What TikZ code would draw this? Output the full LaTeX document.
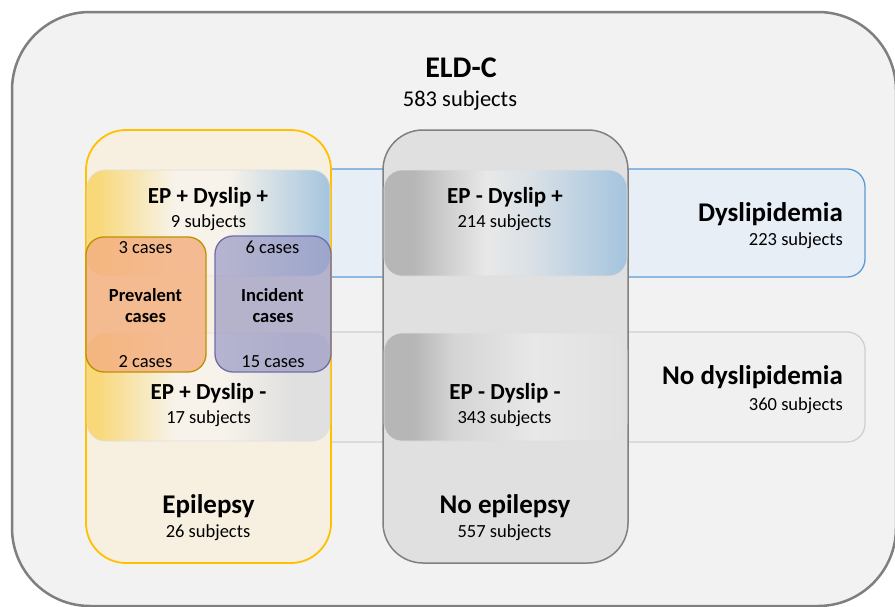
\documentclass[tikz,border=0pt]{standalone}
\usepackage{fontspec}
\setmainfont{Carlito}

\definecolor{outerfill}{HTML}{F2F2F2}
\definecolor{outerline}{HTML}{7F7F7F}
\definecolor{epifill}{HTML}{F7F0E0}
\definecolor{epiline}{HTML}{FFC000}
\definecolor{noepifill}{HTML}{E0E0E0}
\definecolor{noepiline}{HTML}{808080}
\definecolor{dysfill}{HTML}{E7EEF6}
\definecolor{dysline}{HTML}{5B9BD5}
\definecolor{nodysfill}{HTML}{F0F0F0}
\definecolor{nodysline}{HTML}{D0D0D0}
\definecolor{epyellow}{HTML}{F8D878}
\definecolor{epcream}{HTML}{F7F3EA}
\definecolor{dysblue}{HTML}{A4C4DE}
\definecolor{epgray}{HTML}{B6B6B6}
\definecolor{eplight}{HTML}{E8E8E8}
\definecolor{nodysgray}{HTML}{E0E0E0}
\definecolor{prevfill}{HTML}{F4B183}
\definecolor{prevline}{HTML}{BF9000}
\definecolor{incfill}{HTML}{9999C4}
\definecolor{incline}{HTML}{6E6EAA}

% gradients of the four crossings (path spans 25bp--75bp)
\pgfdeclarehorizontalshading{eppdpshade}{100bp}{color(0bp)=(epyellow); color(27bp)=(epyellow);
  color(34bp)=(epyellow!55!epcream); color(43bp)=(epcream); color(54bp)=(epcream);
  color(75bp)=(dysblue); color(100bp)=(dysblue)}
\pgfdeclarehorizontalshading{epmdpshade}{100bp}{color(0bp)=(epgray); color(25bp)=(epgray);
  color(31bp)=(epgray); color(38bp)=(epgray!50!eplight); color(46bp)=(eplight);
  color(55bp)=(eplight!80!dysblue); color(75bp)=(dysblue); color(100bp)=(dysblue)}
\pgfdeclarehorizontalshading{eppdmshade}{100bp}{color(0bp)=(epyellow); color(27bp)=(epyellow);
  color(34bp)=(epyellow!55!epcream); color(43bp)=(epcream); color(53bp)=(epcream);
  color(67bp)=(nodysgray); color(100bp)=(nodysgray)}
\pgfdeclarehorizontalshading{epmdmshade}{100bp}{color(0bp)=(epgray); color(25bp)=(epgray);
  color(31bp)=(epgray); color(39bp)=(epgray!40!eplight); color(56bp)=(eplight);
  color(75bp)=(nodysgray); color(100bp)=(nodysgray)}

\newcommand{\toptitle}{\fontsize{30}{34}\selectfont\bfseries}
\newcommand{\topcount}{\fontsize{22.5}{26}\selectfont}
\newcommand{\settitle}{\fontsize{27}{31}\selectfont\bfseries}
\newcommand{\celltitle}{\fontsize{23}{27}\selectfont\bfseries}
\newcommand{\subjcount}{\fontsize{18.5}{22}\selectfont}
\newcommand{\casetitle}{\fontsize{18.5}{22}\selectfont\bfseries}

\begin{document}
\begin{tikzpicture}[x=1pt, y=-1pt,
  box/.style={inner sep=0pt, rounded corners=18pt},
  cell/.style={box, draw=white!75!gray, line width=0.6pt, minimum width=243pt, shade},
  lbl/.style={anchor=base, inner sep=0pt},
  rlbl/.style={anchor=base east, inner sep=0pt}]
\useasboundingbox (0,0) rectangle (895,606);
% whole cohort
\node[box, rounded corners=78pt, draw=outerline, line width=2.5pt, fill=outerfill,
  minimum width=884pt, minimum height=594pt] (eldc) at (454,309) {};
% dyslipidemia bands
\node[box, draw=dysline, line width=1.3pt, fill=dysfill,
  minimum width=779pt, minimum height=108pt] (dys) at (475.5,223) {};
\node[box, draw=nodysline, line width=1.3pt, fill=nodysfill,
  minimum width=779pt, minimum height=110pt] (nodys) at (475.5,387) {};
% epilepsy columns
\node[box, rounded corners=40pt, draw=epiline, line width=1.8pt, fill=epifill,
  minimum width=245pt, minimum height=433pt] (epi) at (208.5,346.5) {};
\node[box, rounded corners=40pt, draw=noepiline, line width=1.5pt, fill=noepifill,
  minimum width=245pt, minimum height=433pt] (noepi) at (505.5,346.5) {};
% crossings
\node[cell, minimum height=106pt, shading=eppdpshade] (eppdp) at (208.5,223) {};
\node[cell, minimum height=106pt, shading=epmdpshade] (epmdp) at (505.5,223) {};
\node[cell, minimum height=108pt, shading=eppdmshade] (eppdm) at (208.5,387) {};
\node[cell, minimum height=108pt, shading=epmdmshade] (epmdm) at (505.5,387) {};
% cases
\node[box, draw=prevline, line width=1.3pt, fill=prevfill, fill opacity=0.85,
  minimum width=120pt, minimum height=135pt] (prev) at (146,304.5) {};
\node[box, draw=incline, line width=1.3pt, fill=incfill, fill opacity=0.7,
  minimum width=116pt, minimum height=136pt] (inc) at (273,304) {};

% labels
\node[lbl] (eldcT) at (461,77) {\toptitle ELD-C};
\node[lbl] (eldcN) at (460,106) {\topcount 583 subjects};
\node[lbl] (eppdpT) at (208,203) {\celltitle EP + Dyslip +};
\node[lbl] (eppdpN) at (208.5,227) {\subjcount 9 subjects};
\node[lbl] (epmdpT) at (505,203) {\celltitle EP - Dyslip +};
\node[lbl] (epmdpN) at (504.5,227) {\subjcount 214 subjects};
\node[lbl] (eppdmT) at (208.5,399) {\celltitle EP + Dyslip -};
\node[lbl] (eppdmN) at (208.5,423) {\subjcount 17 subjects};
\node[lbl] (epmdmT) at (505,399) {\celltitle EP - Dyslip -};
\node[lbl] (epmdmN) at (504.5,423) {\subjcount 343 subjects};
\node[lbl] (prevA) at (145.5,253) {\subjcount 3 cases};
\node[lbl] (prevT1) at (145.5,301) {\casetitle Prevalent};
\node[lbl] (prevT2) at (145.5,322) {\casetitle cases};
\node[lbl] (prevB) at (145.5,367) {\subjcount 2 cases};
\node[lbl] (incA) at (272.5,253) {\subjcount 6 cases};
\node[lbl] (incT1) at (272.5,301) {\casetitle Incident};
\node[lbl] (incT2) at (273,322) {\casetitle cases};
\node[lbl] (incB) at (273,367) {\subjcount 15 cases};
\node[rlbl] (dysT) at (843,221) {\settitle Dyslipidemia};
\node[rlbl] (dysN) at (843,245) {\subjcount 223 subjects};
\node[rlbl] (nodysT) at (843,384) {\settitle No dyslipidemia};
\node[rlbl] (nodysN) at (843,410) {\subjcount 360 subjects};
\node[lbl] (epiT) at (208.5,513) {\settitle Epilepsy};
\node[lbl] (epiN) at (208,537) {\subjcount 26 subjects};
\node[lbl] (noepiT) at (505,513) {\settitle No epilepsy};
\node[lbl] (noepiN) at (504.5,537) {\subjcount 557 subjects};
\end{tikzpicture}
\end{document}
